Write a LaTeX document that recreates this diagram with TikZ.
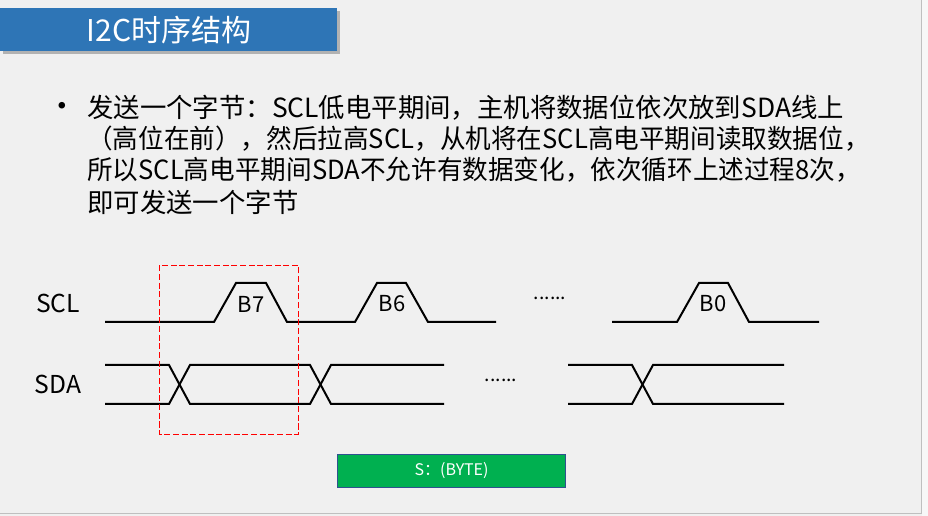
\documentclass[tikz,border=0pt]{standalone}
\usepackage{fontspec}
\newfontfamily\cjk{Noto Sans CJK SC}
\usetikzlibrary{positioning}
\definecolor{slidebg}{HTML}{F0F0F0}
\definecolor{titleblue}{HTML}{2E75B6}
\definecolor{bytegreen}{HTML}{00B050}
\definecolor{byteedge}{HTML}{2F528F}

\begin{document}
\begin{tikzpicture}[x=0.75pt, y=-0.75pt,
  wave/.style={line width=1.5pt, line join=miter},
  bodytext/.style={anchor=west, inner sep=0pt, font=\cjk\fontsize{19.8}{22}\selectfont},
  sigtext/.style={inner sep=0pt, font=\cjk\fontsize{18.5}{20}\selectfont},
  bittext/.style={inner sep=0pt, font=\cjk\fontsize{16.5}{18}\selectfont},
  dotstext/.style={inner sep=0pt, font=\cjk\fontsize{14.5}{16}\selectfont}]
  \useasboundingbox (0,0) rectangle (928,516);
  % Slide
  \fill[slidebg] (0,0) rectangle (928,516);
  \fill[black!3] (922,0) rectangle (928,516);
  \draw[black!25, line width=0.75pt] (921.5,0) -- (921.5,513) -- (0,513);

  % Title bar
  \fill[black!30] (3,11) rectangle (340,54);
  \fill[titleblue] (0,8) rectangle (337,51);
  \node[text=white, inner sep=0pt, font=\cjk\fontsize{22.5}{24}\selectfont] (title) at (169,30) {I2C时序结构};

  % Bullet text
  \node[inner sep=0pt, font=\fontsize{22}{24}\selectfont] (dot) at (62,108) {\textbullet};
  \node[bodytext] (line1) at (87,108) {发送一个字节：SCL低电平期间，主机将数据位依次放到SDA线上};
  \node[bodytext] (line2) at (87,139) {\scalebox{0.97}[1]{（高位在前），然后拉高SCL，从机将在SCL高电平期间读取数据位，}};
  \node[bodytext] (line3) at (87,170) {\scalebox{0.97}[1]{所以SCL高电平期间SDA不允许有数据变化，依次循环上述过程8次，}};
  \node[bodytext] (line4) at (87,202) {即可发送一个字节};

  % Signal names
  \node[sigtext] (scl) at (58,303) {SCL};
  \node[sigtext] (sda) at (58,384) {SDA};

  % SCL
  \draw[wave] (105,322) -- (214,322) -- (236,283) -- (266,283) -- (287,322)
    -- (355,322) -- (377,283) -- (406,283) -- (428,322) -- (496,322);
  \draw[wave] (612,322) -- (677,322) -- (699,283) -- (728,283) -- (749,322) -- (819,322);
  \node[bittext] (b7) at (251,304) {B7};
  \node[bittext] (b6) at (392,304) {B6};
  \node[bittext] (b0) at (713,304) {B0};
  \node[dotstext] (scldots) at (550,298) {......};

  % SDA
  \draw[wave] (105,365) -- (169,365) -- (190,404) -- (310,404) -- (331,365) -- (444,365);
  \draw[wave] (105,404) -- (169,404) -- (190,365) -- (310,365) -- (331,404) -- (444,404);
  \draw[wave] (568,365) -- (632,365) -- (653,404) -- (784,404);
  \draw[wave] (568,404) -- (632,404) -- (653,365) -- (784,365);
  \node[dotstext] (sdadots) at (501,380) {......};

  % One bit
  \draw[red, line width=0.75pt, dash pattern=on 4.5pt off 2pt] (159.5,265.5) rectangle (298.5,434);

  % Byte box
  \node[draw=byteedge, fill=bytegreen, line width=0.75pt, minimum width=171pt, minimum height=24.75pt,
    text=white, font=\cjk\fontsize{12}{14}\selectfont] (byte) at (451.5,471) {S：(BYTE)};
\end{tikzpicture}
\end{document}
